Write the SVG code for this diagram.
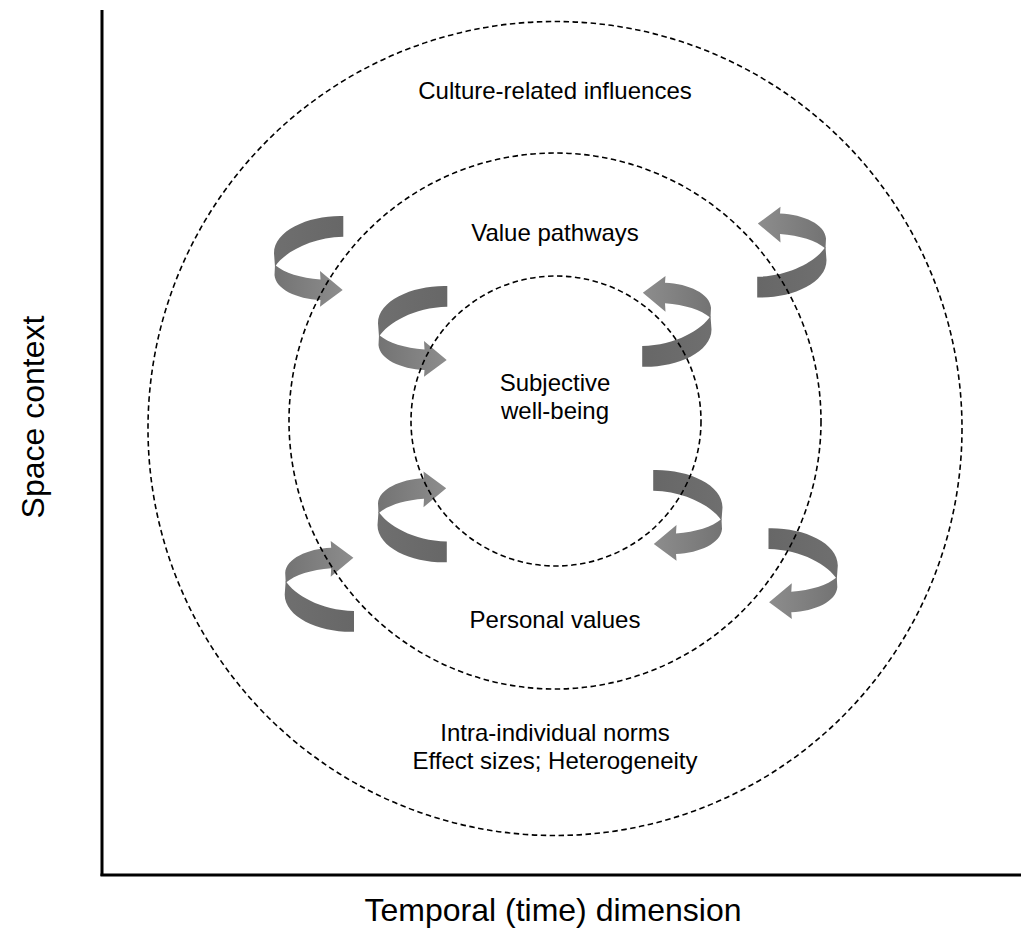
<svg xmlns="http://www.w3.org/2000/svg" xmlns:xlink="http://www.w3.org/1999/xlink" width="1021" height="930" viewBox="0 0 1021 930">
  <style>
    .label { font-family: "Liberation Sans", Arial, sans-serif; font-size: 24px; fill: #000; text-anchor: middle; }
    .axis-label { font-family: "Liberation Sans", Arial, sans-serif; font-size: 32px; fill: #000; text-anchor: middle; }
    .axis { stroke: #000; stroke-width: 3; fill: none; }
    .ring { fill: none; stroke: #000; stroke-width: 1.6; stroke-dasharray: 5.5 3.5; }
  </style>
  <defs>
    <linearGradient id="backShade" x1="0" y1="0" x2="1" y2="0">
      <stop offset="0" stop-color="#6f6f6f"/>
      <stop offset="1" stop-color="#676767"/>
    </linearGradient>
    <linearGradient id="frontShade" x1="0" y1="0" x2="1" y2="0">
      <stop offset="0" stop-color="#737373"/>
      <stop offset="1" stop-color="#8d8d8d"/>
    </linearGradient>
    <!-- curled ribbon arrow, centred on its bounding box -->
    <g id="curl">
      <path fill="url(#backShade)" d="M34.8,-45 C1.5,-46 -34.5,-31 -34.5,-7.7 L-33.5,5.7 C-25.2,-7.7 1.5,-23.7 34.8,-24.3 Z"/>
      <path fill="url(#frontShade)" d="M-33.5,4 C-24,12 -8,17 12,18.5 L11.5,10 L34.2,29 L11.5,45.7 L12,39 C-12,38 -33,28 -34,14 Z"/>
    </g>
  </defs>

  <!-- axes -->
  <g id="axes">
    <line class="axis" x1="102" y1="10" x2="102" y2="876"/>
    <line class="axis" x1="100.5" y1="875" x2="1021" y2="875"/>
    <text class="axis-label" x="553" y="921">Temporal (time) dimension</text>
    <text class="axis-label" transform="translate(44,417) rotate(-90)">Space context</text>
  </g>

  <!-- curled arrows -->
  <g id="arrows">
    <g id="arrow-outer-tl"><use xlink:href="#curl" transform="translate(308.5,261)"/></g>
    <g id="arrow-inner-tl"><use xlink:href="#curl" transform="translate(412.5,331)"/></g>
    <g id="arrow-inner-tr"><use xlink:href="#curl" transform="translate(677,321.7) rotate(180)"/></g>
    <g id="arrow-outer-tr"><use xlink:href="#curl" transform="translate(792,252.5) rotate(180)"/></g>
    <g id="arrow-inner-bl"><use xlink:href="#curl" transform="translate(412,517.2) scale(1,-1)"/></g>
    <g id="arrow-inner-br"><use xlink:href="#curl" transform="translate(688,515) scale(-1,1)"/></g>
    <g id="arrow-outer-bl"><use xlink:href="#curl" transform="translate(319.2,586.7) scale(1,-1)"/></g>
    <g id="arrow-outer-br"><use xlink:href="#curl" transform="translate(803.3,573.3) scale(-1,1)"/></g>
  </g>

  <!-- nested dashed rings -->
  <g id="ring-culture">
    <circle class="ring" cx="555" cy="428.5" r="407"/>
    <text class="label" x="555" y="99">Culture-related influences</text>
    <text class="label" x="555" y="741">Intra-individual norms</text>
    <text class="label" x="555" y="769">Effect sizes; Heterogeneity</text>
  </g>
  <g id="ring-values">
    <ellipse class="ring" cx="555" cy="421" rx="266" ry="268"/>
    <text class="label" x="555" y="241">Value pathways</text>
    <text class="label" x="555" y="628">Personal values</text>
  </g>
  <g id="ring-wellbeing">
    <circle class="ring" cx="556" cy="421" r="145"/>
    <text class="label" x="555" y="391">Subjective</text>
    <text class="label" x="555" y="419">well-being</text>
  </g>
</svg>
